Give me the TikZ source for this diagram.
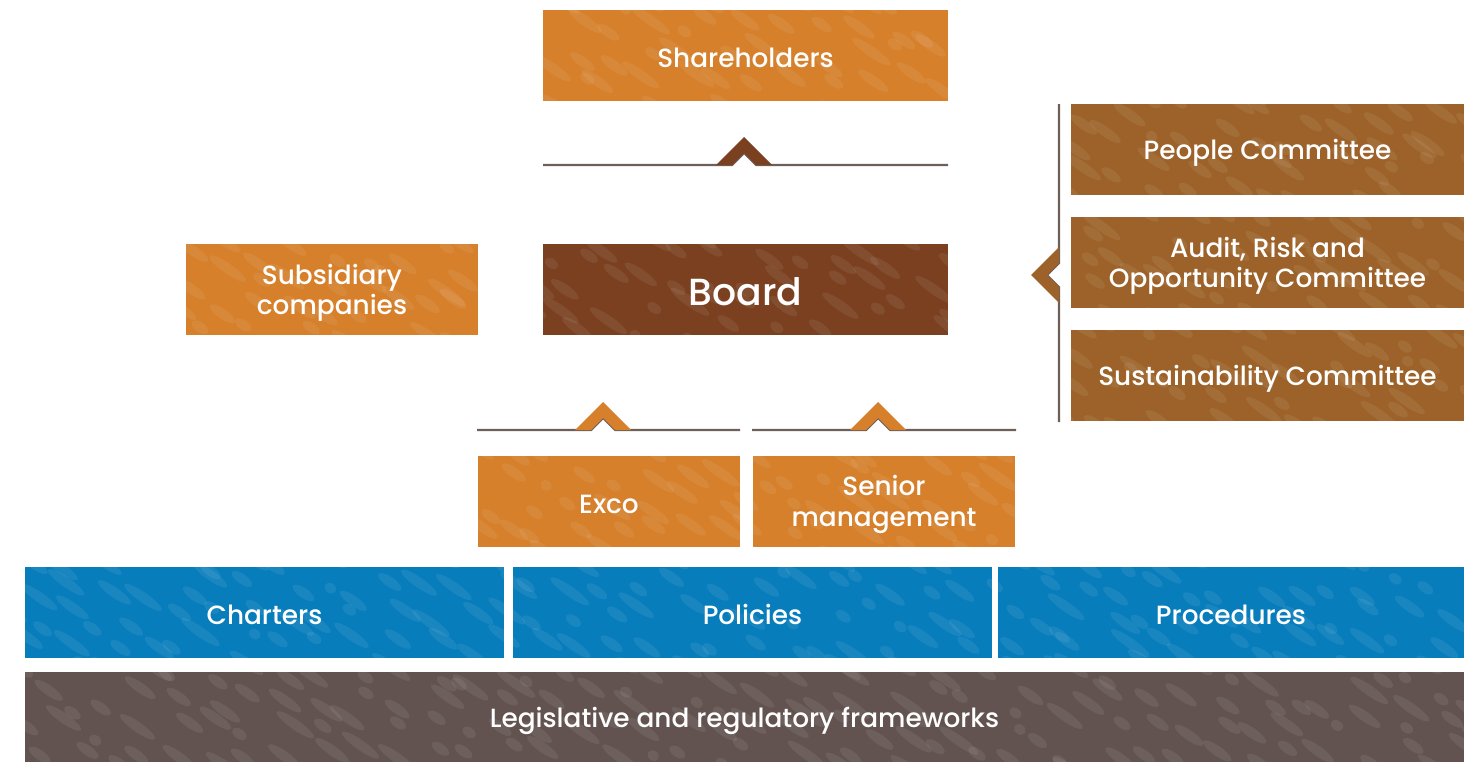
\documentclass[tikz,border=0pt]{standalone}
\usepackage{fontspec}
\setmainfont{Poppins}[UprightFont={* Medium}]
\usepackage{xcolor}
\usetikzlibrary{calc}
\definecolor{govorange}{HTML}{D6802B}
\definecolor{govboard}{HTML}{7A4020}
\definecolor{govcommittee}{HTML}{9D6229}
\definecolor{govblue}{HTML}{087DBC}
\definecolor{govlegal}{HTML}{625350}
\definecolor{govline}{HTML}{6E5F5B}
% same height and depth for every line of box text
\newcommand{\govstrut}{\rule[-1.8pt]{0pt}{17pt}}
\newcommand{\govbigstrut}{\rule[-2pt]{0pt}{21.8pt}}
\newcommand{\govtight}{\setlength{\lineskiplimit}{-100pt}}
\tikzset{
  govbox/.style={inner sep=0pt, text=white, align=center,
    font=\fontsize{15}{17.5}\selectfont, minimum height=1.82cm,
    execute at begin node=\govtight},
  govstreak/.style={fill=white, opacity=0.07},
  govrule/.style={draw=govline, line width=1.2pt},
}

\begin{document}
\begin{tikzpicture}[x=0.02cm,y=-0.02cm]
        \newcommand{\govchevout}{28}
        \newcommand{\govchevin}{12}
        % chevron pointing up, sitting on a rule at (#1,#2)
        \newcommand{\govchevup}[3]{%
          \fill[#3] (#1-\govchevout,#2) -- (#1,#2-\govchevout) -- (#1+\govchevout,#2)
            -- (#1+\govchevin,#2) -- (#1,#2-\govchevin) -- (#1-\govchevin,#2) -- cycle;}
        \useasboundingbox (0,0) rectangle (1464,761);
        % top of the structure
        \node (shareholders) [govbox, fill=govorange, minimum width=8.1cm] at (745.5,55.5) {\govstrut Shareholders};
        \node (board) [govbox, fill=govboard, minimum width=8.1cm,
          font=\fontsize{21.5}{25}\selectfont] at (745.5,289.5) {\govbigstrut Board};
        \node (subsidiary) [govbox, fill=govorange, minimum width=5.84cm] at (332,289.5) {\govstrut Subsidiary\\\govstrut companies};
        % board committees
        \node (people) [govbox, fill=govcommittee, minimum width=7.86cm] at (1267.5,149.5) {\govstrut People Committee};
        \node (audit) [govbox, fill=govcommittee, minimum width=7.86cm] at (1267.5,262.5) {\govstrut Audit, Risk and\\\govstrut Opportunity Committee};
        \node (sustain) [govbox, fill=govcommittee, minimum width=7.86cm] at (1267.5,375.5) {\govstrut Sustainability Committee};
        % management
        \node (exco) [govbox, fill=govorange, minimum width=5.24cm] at (609,501.5) {\govstrut Exco};
        \node (senior) [govbox, fill=govorange, minimum width=5.24cm] at (884,501.5) {\govstrut Senior\\\govstrut management};
        % governance documents
        \node (charters) [govbox, fill=govblue, minimum width=9.58cm] at (264.5,612.5) {\govstrut Charters};
        \node (policies) [govbox, fill=govblue, minimum width=9.58cm] at (752.5,612.5) {\govstrut Policies};
        \node (procedures) [govbox, fill=govblue, minimum width=9.32cm] at (1231,612.5) {\govstrut Procedures};
        \node (legal) [govbox, fill=govlegal, minimum width=28.78cm] at (744.5,717.5) {\govstrut Legislative and regulatory frameworks};
        % streaky texture over the boxes
        \begin{scope}
          \clip (shareholders.north west) rectangle (shareholders.south east)
                (board.north west) rectangle (board.south east)
                (subsidiary.north west) rectangle (subsidiary.south east)
                (people.north west) rectangle (people.south east)
                (audit.north west) rectangle (audit.south east)
                (sustain.north west) rectangle (sustain.south east)
                (exco.north west) rectangle (exco.south east)
                (senior.north west) rectangle (senior.south east)
                (charters.north west) rectangle (charters.south east)
                (policies.north west) rectangle (policies.south east)
                (procedures.north west) rectangle (procedures.south east)
                (legal.north west) rectangle (legal.south east);
          \pgfmathsetseed{17}
          \foreach \sx in {0,36,...,1490}{
            \foreach \sy in {0,28,...,780}{
              \pgfmathsetmacro{\px}{\sx+16*rand}
              \pgfmathsetmacro{\py}{\sy+13*rand}
              \pgfmathsetmacro{\pr}{0.12+0.36*rnd}
              \fill[govstreak, rotate around={-35:(\px,\py)}] (\px,\py) ellipse [x radius=\pr cm, y radius=0.1cm];
            }
          }
        \end{scope}
        % rule and chevron under the shareholders
        \draw[govrule] (543,165) -- (732,165) -- (744,153) -- (756,165) -- (948,165);
        \govchevup{744}{165}{govboard}
        % rules and chevrons over exco and senior management
        \draw[govrule] (477,430) -- (591,430) -- (603,418) -- (615,430) -- (740,430);
        \govchevup{603}{430}{govorange}
        \draw[govrule] (752,430) -- (866,430) -- (878,418) -- (890,430) -- (1016,430);
        \govchevup{878}{430}{govorange}
        % bracket for the committees
        \draw[govrule] (1059,104) -- (1059,263) -- (1047,275) -- (1059,287) -- (1059,422);
        \fill[govcommittee] (1059,247) -- (1031,275) -- (1059,303) -- (1059,287) -- (1047,275) -- (1059,263) -- cycle;
\end{tikzpicture}
\end{document}
